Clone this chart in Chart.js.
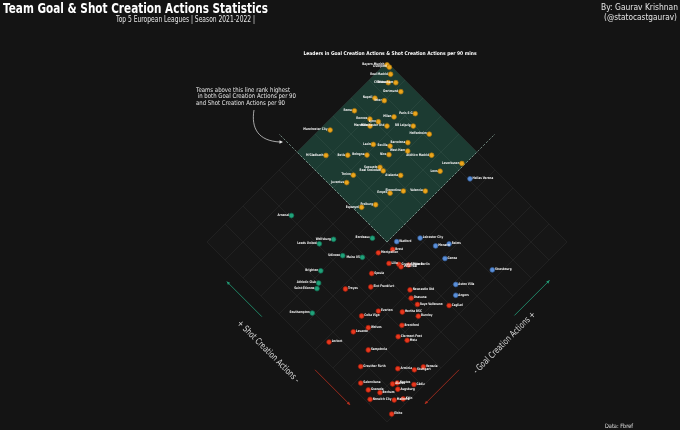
<!DOCTYPE html>
<html><head><meta charset="utf-8">
<script src="https://cdn.jsdelivr.net/npm/chart.js@4/dist/chart.umd.min.js"></script>
<style>html,body{margin:0;padding:0;background:#141414;}canvas{display:block}</style>
</head><body>
<canvas id="c" width="680" height="430"></canvas>
<script>
// Teams, with percentile-style positions on the two (rotated) axes
const teams = [
 "Bayern Munich","Liverpool","Real Madrid","Chelsea","Tottenham","Dortmund","Napoli","Inter","Roma","Paris S-G",
 "Milan","Rennes","Lyon","Marseille","Manchester Utd","RB Leipzig","Manchester City","Hoffenheim","Barcelona","Lazio",
 "Sevilla","West Ham","Bologna","Nice","Atlético Madrid","M'Gladbach","Betis","Leverkusen","Sassuolo","Real Sociedad",
 "Lens","Atalanta","Torino","Juventus","Fiorentina","Valencia","Empoli","Freiburg","Espanyol",
 "Arsenal","Wolfsburg","Leeds United","Bordeaux","Udinese","Mainz 05","Brighton","Athletic Club","Saint-Étienne","Southampton",
 "Hellas Verona","Watford","Leicester City","Monaco","Reims","Genoa","Strasbourg","Aston Villa","Angers",
 "Montpellier","Brest","Lille","Crystal Palace","Villarreal","Union Berlin","Spezia","Eint Frankfurt","Troyes","Newcastle Utd",
 "Osasuna","Rayo Vallecano","Cagliari","Everton","Celta Vigo","Hertha BSC","Burnley","Wolves","Levante","Brentford",
 "Lorient","Clermont Foot","Metz","Sampdoria","Greuther Fürth","Arminia","Stuttgart","Venezia","Salernitana","Alavés",
 "Nantes","Granada","Bochum","Augsburg","Cádiz","Norwich City","Mallorca","Köln","Elche"
];
const gcaRank = [
 99.2,99.2,97.6,94.6,96.7,95.6,86.6,88.5,77.4,93.5,
 86.7,79.4,81.0,77.5,82.2,89.5,65.3,91.7,83.4,73.3,
 77.5,81.0,68.6,74.8,86.5,57.1,63.2,92.6,68.8,68.7,
 84.4,72.3,59.2,55.3,68.7,74.8,64.4,57.2,52.6,
 30.8,35.9,30.7,47.0,33.9,38.9,23.6,19.6,17.6,9.5,
 90.6,52.8,60.3,62.4,66.7,61.5,71.5,57.3,54.3,
 44.6,49.5,44.6,47.1,47.0,49.6,37.0,33.0,25.4,43.1,
 41.1,41.1,49.6,28.4,22.4,34.8,38.1,21.0,15.7,31.0,
 6.1,26.8,28.3,14.8,8.1,17.8,22.1,25.4,3.5,12.1,
 13.7,3.7,6.2,12.1,17.9,1.6,8.1,10.9,3.5
];
const scaRank = [
 99.2,97.9,95.6,93.9,91.8,87.9,93.3,90.0,95.5,77.8,
 82.8,88.9,85.8,86.9,82.2,74.9,96.9,68.2,71.8,80.9,
 75.8,69.5,79.7,73.7,61.7,91.0,85.0,51.0,72.7,70.8,
 54.9,64.7,77.9,77.7,59.6,53.5,62.7,63.5,66.7,
 83.9,65.6,68.3,55.1,58.5,52.6,60.4,57.6,56.5,51.0,
 44.5,47.4,41.9,35.4,32.2,29.3,13.0,19.1,16.1,
 49.4,46.4,43.5,40.5,39.2,37.6,45.5,42.0,48.5,30.3,
 27.7,24.2,15.1,33.2,36.5,26.3,20.7,31.4,34.4,22.7,
 38.3,20.6,17.1,25.2,22.7,11.8,6.9,5.2,18.1,9.0,
 8.0,14.1,10.1,6.1,2.9,11.0,4.1,1.9,0.9
];
const splitRank = 50;

const groups = [
  {test:(g,s)=>g>=splitRank&&s>=splitRank, fill:'#eba51c', edge:'#a8740c', side:'left'},
  {test:(g,s)=>g<splitRank&&s>=splitRank,  fill:'#20a27a', edge:'#137055', side:'left'},
  {test:(g,s)=>g>=splitRank&&s<splitRank,  fill:'#5b8fd8', edge:'#35609e', side:'right'},
  {test:(g,s)=>g<splitRank&&s<splitRank,   fill:'#e8391e', edge:'#a31c0b', side:'right'}
];

const datasets = groups.map(gr => {
  const pts = [];
  teams.forEach((t,i)=>{
    if (gr.test(gcaRank[i], scaRank[i])) pts.push({x: gcaRank[i]-scaRank[i], y: gcaRank[i]+scaRank[i], team: t});
  });
  return {data: pts, backgroundColor: gr.fill, borderColor: gr.edge, borderWidth: 0.7,
          pointRadius: 2.4, pointHoverRadius: 2.4, clip: false, side: gr.side};
});

function txt(ctx, s, x, y, font, color, align, sx, rot, base) {
  ctx.save(); ctx.translate(x, y); if (rot) ctx.rotate(rot); ctx.scale(sx, 1);
  ctx.font = font; ctx.fillStyle = color; ctx.textAlign = align; ctx.textBaseline = base || 'middle';
  ctx.fillText(s, 0, 0); ctx.restore();
}
function txtW(ctx, s, x, y, font, color, align, w, rot, base) {
  ctx.save(); ctx.font = font; const m = ctx.measureText(s).width; ctx.restore();
  txt(ctx, s, x, y, font, color, align, w / m, rot, base);
}
function arrow(ctx, a, b, color, lw, hs) {
  ctx.save(); ctx.strokeStyle = color; ctx.fillStyle = color; ctx.lineWidth = lw;
  ctx.beginPath(); ctx.moveTo(a[0], a[1]); ctx.lineTo(b[0], b[1]); ctx.stroke();
  const ang = Math.atan2(b[1]-a[1], b[0]-a[0]);
  ctx.beginPath(); ctx.moveTo(b[0], b[1]);
  ctx.lineTo(b[0]-hs*Math.cos(ang-0.45), b[1]-hs*Math.sin(ang-0.45));
  ctx.lineTo(b[0]-hs*Math.cos(ang+0.45), b[1]-hs*Math.sin(ang+0.45));
  ctx.closePath(); ctx.fill(); ctx.restore();
}

const diamondPlugin = {
  id: 'diamond',
  beforeDatasetsDraw(chart) {
    const {ctx, scales:{x:xs, y:ys}} = chart;
    const P = (u,v) => [xs.getPixelForValue(u - v), ys.getPixelForValue(u + v)];
    const poly = (pts, fill) => { ctx.beginPath(); pts.forEach((p,i)=> i? ctx.lineTo(p[0],p[1]) : ctx.moveTo(p[0],p[1])); ctx.closePath(); ctx.fillStyle = fill; ctx.fill(); };
    ctx.save();
    poly([P(0,0),P(100,0),P(100,100),P(0,100)], '#161616');
    poly([P(splitRank,splitRank),P(100,splitRank),P(100,100),P(splitRank,100)], '#1c3b32');
    ctx.lineWidth = 0.6; ctx.strokeStyle = 'rgba(255,255,255,0.085)';
    for (let k = 0; k <= 100; k += 10) {
      let a = P(k,0), b = P(k,100);
      ctx.beginPath(); ctx.moveTo(a[0],a[1]); ctx.lineTo(b[0],b[1]); ctx.stroke();
      a = P(0,k); b = P(100,k);
      ctx.beginPath(); ctx.moveTo(a[0],a[1]); ctx.lineTo(b[0],b[1]); ctx.stroke();
    }
    // median lines extending past the diamond
    ctx.strokeStyle = 'rgba(190,230,215,0.75)'; ctx.lineWidth = 0.7; ctx.setLineDash([2.5,1.5]);
    let a = P(splitRank,splitRank), b = P(splitRank,110);
    ctx.beginPath(); ctx.moveTo(a[0],a[1]); ctx.lineTo(b[0],b[1]); ctx.stroke();
    b = P(110,splitRank);
    ctx.beginPath(); ctx.moveTo(a[0],a[1]); ctx.lineTo(b[0],b[1]); ctx.stroke();
    ctx.setLineDash([]);
    ctx.restore();
  },
  afterDatasetsDraw(chart) {
    const {ctx, scales:{x:xs, y:ys}} = chart;
    const P = (u,v) => [xs.getPixelForValue(u - v), ys.getPixelForValue(u + v)];
    ctx.save();
    // team labels
    chart.data.datasets.forEach((ds, di) => {
      const meta = chart.getDatasetMeta(di);
      meta.data.forEach((el, i) => {
        const left = ds.side === 'left';
        txt(ctx, ds.data[i].team, el.x + (left ? -2.6 : 2.6), el.y - 0.6, 'bold 3.4px "DejaVu Sans"', '#f2f2f2', left ? 'right' : 'left', 0.78);
      });
    });
    // axis arrows
    arrow(ctx, P(-5.5,64), P(-5.5,83.5), '#239e78', 0.8, 3.5);
    arrow(ctx, P(-5.5,34.5), P(-5.5,15), '#b8301f', 0.8, 3.5);
    arrow(ctx, P(65,-5.8), P(84.5,-5.8), '#239e78', 0.8, 3.5);
    arrow(ctx, P(34.5,-5.5), P(15.5,-5.5), '#b8301f', 0.8, 3.5);
    let c = P(-13.5, 52.5);
    txtW(ctx, '+ Shot Creation Actions -', c[0], c[1], '9px "DejaVu Sans"', '#d6d6d6', 'center', 84, Math.PI/4);
    c = P(54.6, -10.7);
    txtW(ctx, '- Goal Creation Actions +', c[0], c[1], '9px "DejaVu Sans"', '#d6d6d6', 'center', 84, -Math.PI/4);
    ctx.restore();
  },
  afterDraw(chart) {
    const ctx = chart.ctx;
    ctx.save();
    txtW(ctx, 'Team Goal & Shot Creation Actions Statistics', 3, 13, 'bold 13.5px "DejaVu Sans"', '#ffffff', 'left', 265, 0, 'alphabetic');
    txtW(ctx, 'Top 5 European Leagues | Season 2021-2022 |', 185.5, 21.5, '8.5px "DejaVu Sans"', '#e6e6e6', 'center', 139, 0, 'alphabetic');
    txtW(ctx, 'By: Gaurav Krishnan', 639.5, 10, '8.5px "DejaVu Sans"', '#e6e6e6', 'center', 77, 0, 'alphabetic');
    txtW(ctx, '(@statocastgaurav)', 640.5, 20, '8.5px "DejaVu Sans"', '#e6e6e6', 'center', 73, 0, 'alphabetic');
    txtW(ctx, 'Leaders in Goal Creation Actions & Shot Creation Actions per 90 mins', 390, 55, 'bold 5px "DejaVu Sans"', '#ffffff', 'center', 173, 0, 'alphabetic');
    txtW(ctx, 'Teams above this line rank highest', 196, 92, '6.5px "DejaVu Sans"', '#e6e6e6', 'left', 94, 0, 'alphabetic');
    txtW(ctx, ' in both Goal Creation Actions per 90', 196, 98.3, '6.5px "DejaVu Sans"', '#e6e6e6', 'left', 100, 0, 'alphabetic');
    txtW(ctx, 'and Shot Creation Actions per 90', 196, 104.6, '6.5px "DejaVu Sans"', '#e6e6e6', 'left', 89, 0, 'alphabetic');
    txtW(ctx, 'Data: Fbref', 605, 428, '6px "DejaVu Sans"', '#e0e0e0', 'left', 28, 0, 'alphabetic');
    // curved annotation arrow
    ctx.strokeStyle = '#e6e6e6'; ctx.fillStyle = '#e6e6e6'; ctx.lineWidth = 0.7;
    ctx.beginPath(); ctx.moveTo(254, 110);
    ctx.bezierCurveTo(251, 128, 258, 141, 280, 142); ctx.stroke();
    ctx.beginPath(); ctx.moveTo(283, 142); ctx.lineTo(279.5, 140.3); ctx.lineTo(279.5, 143.7); ctx.closePath(); ctx.fill();
    ctx.restore();
  }
};

new Chart(document.getElementById('c'), {
  type: 'scatter',
  data: { datasets },
  options: {
    responsive: false, animation: false, devicePixelRatio: 1,
    layout: { padding: { left: 207, right: 113, top: 62, bottom: 8 } },
    scales: {
      x: { type: 'linear', min: -100, max: 100, display: false },
      y: { type: 'linear', min: 0, max: 200, display: false }
    },
    plugins: { legend: { display: false }, tooltip: { enabled: false } },
    events: []
  },
  plugins: [diamondPlugin]
});
</script>
</body></html>
